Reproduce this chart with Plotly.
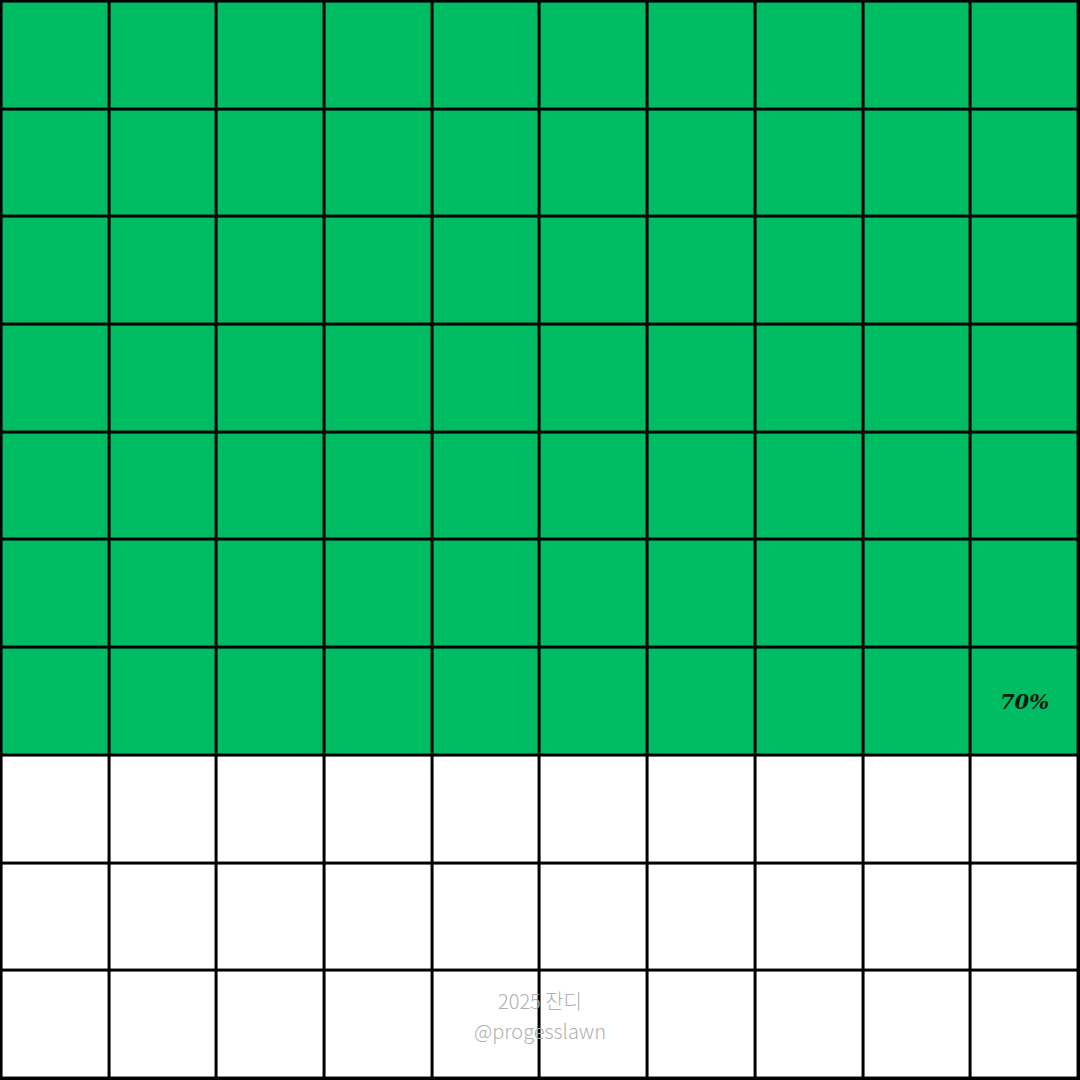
import plotly.graph_objects as go

# Data
columns = list(range(1, 11))      # 10 columns
rows = list(range(1, 11))         # 10 rows, top to bottom
percent = 70                       # filled share of 100 cells
label_text = "70%"
watermark_lines = ["2025 잔디", "@progesslawn"]

fill_color = "#00BC62"
empty_color = "#FFFFFF"

# Build 0/1 grid: cells filled row-wise from top-left
z = []
for r_i, r in enumerate(rows):
    row_vals = []
    for c_i, c in enumerate(columns):
        idx = r_i * len(columns) + c_i
        row_vals.append(1 if idx < percent else 0)
    z.append(row_vals)

last_idx = percent - 1
label_row = rows[last_idx // len(columns)]
label_col = columns[last_idx % len(columns)]

fig = go.Figure(go.Heatmap(
    z=z, x=columns, y=rows,
    colorscale=[[0, empty_color], [1, fill_color]],
    zmin=0, zmax=1, showscale=False,
    xgap=3, ygap=3, hoverinfo="skip",
))

fig.add_annotation(
    x=label_col, y=label_row, text="<b><i>" + label_text + "</i></b>",
    showarrow=False, font=dict(family="DejaVu Serif", size=21, color="#0a1a0f"),
)

for line, ypix in zip(watermark_lines, [1000, 1030]):
    fig.add_annotation(
        x=0.5, y=1 - ypix / 1080, xref="paper", yref="paper", yanchor="middle",
        text=line, showarrow=False,
        font=dict(family="Noto Sans CJK KR", size=20, color="#B0B0B0", weight=300),
    )

fig.update_xaxes(range=[0.486, 10.514], visible=False, fixedrange=True)
fig.update_yaxes(range=[10.514, 0.486], visible=False, fixedrange=True)
fig.update_layout(
    width=1080, height=1080,
    margin=dict(l=0, r=0, t=0, b=0),
    plot_bgcolor="#000000", paper_bgcolor="#000000",
    showlegend=False,
)

fig.write_html("out.html", config={"displayModeBar": False})
